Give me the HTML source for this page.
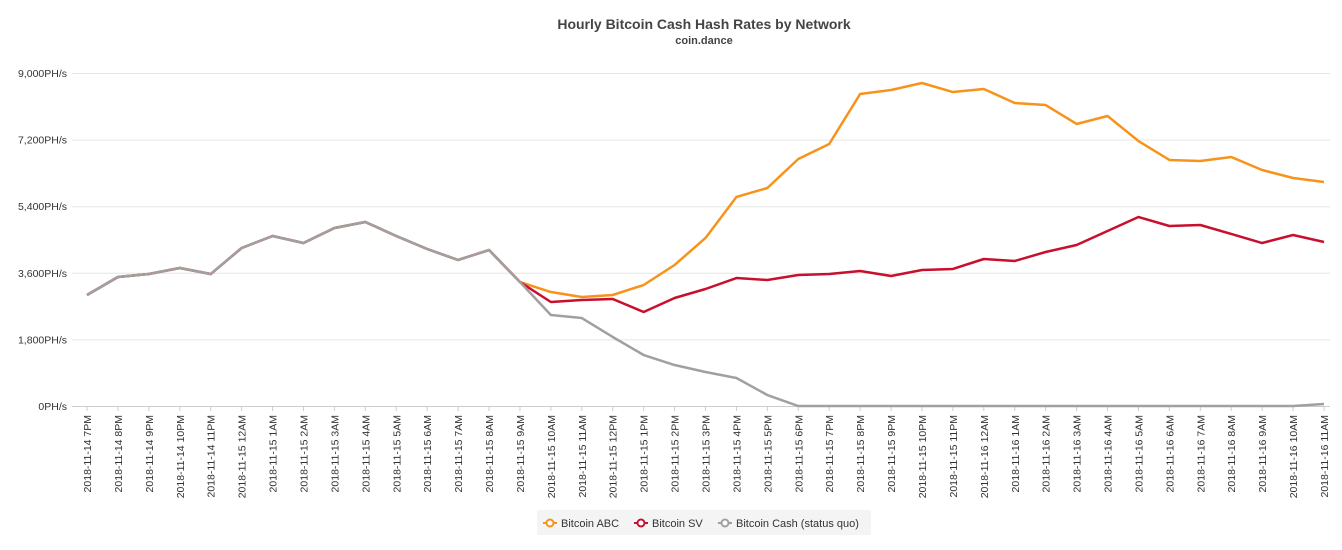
<!DOCTYPE html>
<html><head><meta charset="utf-8"><style>
body{margin:0;background:#fff;font-family:"Liberation Sans",sans-serif}
svg{display:block}
</style></head><body>
<svg id="c" width="1342" height="550">
<text x="704" y="29" text-anchor="middle" font-size="14" font-weight="bold" fill="#444">Hourly Bitcoin Cash Hash Rates by Network</text>
<text x="704" y="44" text-anchor="middle" font-size="11" font-weight="bold" fill="#444">coin.dance</text>
<g id="grid"></g><g id="xl"></g><g id="lines"></g>
<g>
<rect x="537" y="510" width="334" height="25" fill="#f4f4f4"/>
<g><line x1="543" y1="523" x2="557" y2="523" stroke="#f7931a" stroke-width="2"/><circle cx="550" cy="523" r="3.5" fill="#fff" stroke="#f7931a" stroke-width="2"/><text x="561" y="527" font-size="11" fill="#333">Bitcoin ABC</text></g>
<g><line x1="634" y1="523" x2="648" y2="523" stroke="#c8102e" stroke-width="2"/><circle cx="641" cy="523" r="3.5" fill="#fff" stroke="#c8102e" stroke-width="2"/><text x="652" y="527" font-size="11" fill="#333">Bitcoin SV</text></g>
<g><line x1="718" y1="523" x2="732" y2="523" stroke="#a0a0a0" stroke-width="2"/><circle cx="725" cy="523" r="3.5" fill="#fff" stroke="#a0a0a0" stroke-width="2"/><text x="736" y="527" font-size="11" fill="#333">Bitcoin Cash (status quo)</text></g>
</g>
</svg>
<script>
const categories=["2018-11-14 7PM","2018-11-14 8PM","2018-11-14 9PM","2018-11-14 10PM","2018-11-14 11PM","2018-11-15 12AM","2018-11-15 1AM","2018-11-15 2AM","2018-11-15 3AM","2018-11-15 4AM","2018-11-15 5AM","2018-11-15 6AM","2018-11-15 7AM","2018-11-15 8AM","2018-11-15 9AM","2018-11-15 10AM","2018-11-15 11AM","2018-11-15 12PM","2018-11-15 1PM","2018-11-15 2PM","2018-11-15 3PM","2018-11-15 4PM","2018-11-15 5PM","2018-11-15 6PM","2018-11-15 7PM","2018-11-15 8PM","2018-11-15 9PM","2018-11-15 10PM","2018-11-15 11PM","2018-11-16 12AM","2018-11-16 1AM","2018-11-16 2AM","2018-11-16 3AM","2018-11-16 4AM","2018-11-16 5AM","2018-11-16 6AM","2018-11-16 7AM","2018-11-16 8AM","2018-11-16 9AM","2018-11-16 10AM","2018-11-16 11AM"];
const shared=[3000,3486,3567,3730,3567,4270,4595,4405,4811,4973,4595,4243,3946,4216,3351];
const abc=shared.concat([3081,2946,3000,3270,3811,4541,5649,5892,6676,7081,8432,8541,8730,8486,8568,8189,8135,7622,7838,7162,6649,6622,6730,6378,6162,6054]);
const sv=shared.concat([2811,2865,2892,2541,2919,3162,3459,3405,3541,3567,3649,3514,3676,3703,3973,3919,4162,4351,4730,5108,4865,4892,4649,4405,4622,4432]);
const cash=shared.concat([2459,2378,1865,1378,1108,919,757,297,0,0,0,0,0,0,0,0,0,0,0,0,0,0,0,0,0,54]);
const yTicks=[0,1800,3600,5400,7200,9000];
const yLabels=["0PH/s","1,800PH/s","3,600PH/s","5,400PH/s","7,200PH/s","9,000PH/s"];
const NS="http://www.w3.org/2000/svg";
const X0=87,X1=1324,Y0=406,Y1=73,YMAX=9000;
const x=i=>X0+(X1-X0)*i/(categories.length-1);
const y=v=>Y0-(Y0-Y1)*v/YMAX;
function mk(t,a,p){const e=document.createElementNS(NS,t);for(const k in a)e.setAttribute(k,a[k]);p.appendChild(e);return e;}
const g=document.getElementById('grid');
yTicks.forEach((v,i)=>{
 const l=mk('line',{x1:72,x2:1330,y1:y(v)+0.5,y2:y(v)+0.5,stroke:i==0?'#ccc':'#e6e6e6'},g);
 
 
 const t=mk('text',{x:67,y:y(v)+4,'text-anchor':'end','font-size':10.5,fill:'#333'},g);
 t.textContent=yLabels[i];
 
 
});
const xl=document.getElementById('xl');
categories.forEach((c,i)=>{
 const tk=mk('line',{x1:x(i),x2:x(i),y1:Y0,y2:Y0+5,stroke:'#ccc'},xl);
 
 
 const t=mk('text',{transform:`translate(${x(i)+4},415) rotate(-90)`,'text-anchor':'end','font-size':10.5,fill:'#333'},xl);
 t.textContent=c;
 
 
});
const L=document.getElementById('lines');
[[abc,'#f7931a','line-bitcoin-abc'],[sv,'#c8102e','line-bitcoin-sv'],[cash,'#a0a0a0','line-bitcoin-cash']].forEach(([d,col,n])=>{
 const p=mk('polyline',{points:d.map((v,i)=>x(i)+','+y(v)).join(' '),fill:'none',stroke:col,'stroke-width':2.5,'stroke-linejoin':'round'},L);
 
 
});
</script>
</body></html>
